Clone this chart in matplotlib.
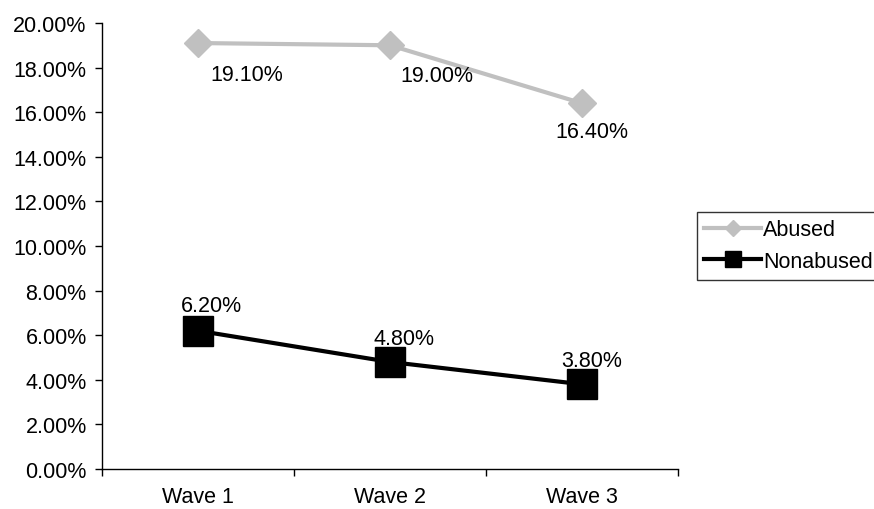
import matplotlib
matplotlib.use("Agg")
import matplotlib.pyplot as plt
from matplotlib.ticker import FuncFormatter, FixedLocator

plt.rcParams['font.family'] = ['Liberation Sans', 'DejaVu Sans']

waves = ["Wave 1", "Wave 2", "Wave 3"]
abused = [19.10, 19.00, 16.40]
nonabused = [6.20, 4.80, 3.80]

# per-point label offsets (points)
abused_offsets = [(35, -23), (34, -22), (7, -20)]
nonabused_offsets = [(10, 18), (10, 17), (7, 17)]

FS = 15.5

fig = plt.figure(figsize=(8.74, 5.10), dpi=100)
ax = fig.add_axes([0.1167, 0.0784, 0.659, 0.8746])

x = list(range(len(waves)))
ax.plot(x, abused, color="#c0c0c0", lw=3, marker="D", ms=14,
        label="Abused", zorder=3)
ax.plot(x, nonabused, color="#000000", lw=3, marker="s", ms=21,
        label="Nonabused", zorder=3)

for xi, v, off in zip(x, abused, abused_offsets):
    ax.annotate(f"{v:.2f}%", (xi, v), xytext=off, textcoords="offset points",
                ha="center", va="center", fontsize=FS)
for xi, v, off in zip(x, nonabused, nonabused_offsets):
    ax.annotate(f"{v:.2f}%", (xi, v), xytext=off, textcoords="offset points",
                ha="center", va="center", fontsize=FS)

ax.set_xlim(-0.5, len(waves) - 0.5)
ax.set_ylim(0, 20)
ax.set_yticks([i * 2 for i in range(11)])
ax.yaxis.set_major_formatter(FuncFormatter(lambda v, p: f"{v:.2f}%"))
ax.xaxis.set_major_locator(FixedLocator([i - 0.5 for i in range(len(waves) + 1)]))
ax.xaxis.set_major_formatter(FuncFormatter(lambda v, p: ""))
ax.xaxis.set_minor_locator(FixedLocator(x))
ax.set_xticklabels(waves, minor=True)
ax.tick_params(axis="x", which="minor", length=0, pad=12, labelsize=FS)
ax.tick_params(axis="x", which="major", direction="out", length=5, width=1)
ax.tick_params(axis="y", direction="out", length=5, width=1, labelsize=FS, pad=6)

for s in ["top", "right"]:
    ax.spines[s].set_visible(False)
for s in ["left", "bottom"]:
    ax.spines[s].set_linewidth(1)

leg = fig.legend(loc="upper left", bbox_to_anchor=(0.797, 0.583),
                 frameon=True, fancybox=False, edgecolor="black",
                 fontsize=FS, handlelength=2.65, handletextpad=0.1,
                 borderpad=0.35, labelspacing=0.5, borderaxespad=0,
                 markerscale=0.55)
leg.get_frame().set_linewidth(1)

fig.savefig("out.png", dpi=100)
